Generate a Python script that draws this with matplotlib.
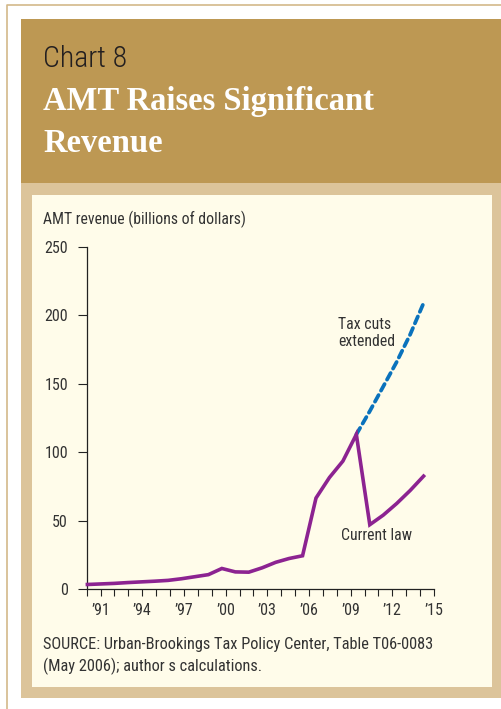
import matplotlib
matplotlib.use("Agg")
import matplotlib.pyplot as plt
from matplotlib.patches import Rectangle
from matplotlib.lines import Line2D
import numpy as np

# data (billions of dollars)
years = np.arange(1990, 2016)
current_law = [3.3, 3.7, 4.1, 4.7, 5.2, 5.7, 6.3, 7.5, 9.0, 10.5,
               15.0, 12.5, 12.3, 15.5, 19.5, 22.3, 24.3, 66.5, 81.5, 93.5,
               113.0, 47.0, 54.0, 62.5, 72.0, 82.5]
ext_years = np.arange(2010, 2016)
tax_cuts_extended = [113.0, 130.0, 148.0, 166.0, 186.0, 209.0]
tick_years = np.arange(1990, 2016)
label_years = [1991, 1994, 1997, 2000, 2003, 2006, 2009, 2012, 2015]

W, H = 502, 709
gold = "#bd9853"
tan = "#dcc49a"
cream = "#fffcea"
purple = "#8c2391"
blue = "#0a72bc"
txt = "#333333"
narrow = ["Roboto Condensed", "DejaVu Sans"]

fig = plt.figure(figsize=(W / 100, H / 100), dpi=100)
fig.patch.set_facecolor("white")


def box(x0, y0, x1, y1, color):
    # rectangle in pixel coords (y from top)
    fig.patches.append(Rectangle((x0 / W, 1 - y1 / H), (x1 - x0) / W, (y1 - y0) / H,
                                 transform=fig.transFigure, facecolor=color,
                                 edgecolor="none", zorder=-5))


def ftext(x, y, s, **kw):
    fig.text(x / W, 1 - y / H, s, **kw)


# outer thin border
fig.lines.append(Line2D([7 / W, 7 / W, 1], [0, 1 - 5 / H, 1 - 5 / H],
                        transform=fig.transFigure, color="#d3b98a", lw=1.2, zorder=-5))
box(21, 19, W, 183, gold)
box(21, 183, W, 698, tan)
box(32, 195, 492, 687, cream)

ftext(43, 67, "Chart 8", family=["Roboto Condensed", "DejaVu Sans"], fontweight="light",
      fontsize=21.5, color="#231f20", va="baseline")
ftext(43, 110, "AMT Raises Significant", family="Liberation Serif", fontweight="bold",
      fontsize=23.5, color="white", va="baseline")
ftext(43, 152, "Revenue", family="Liberation Serif", fontweight="bold",
      fontsize=23.5, color="white", va="baseline")

ftext(43, 219, "AMT revenue (billions of dollars)", family=narrow, fontsize=11.3,
      color=txt, va="center")
ftext(43, 644, "SOURCE: Urban-Brookings Tax Policy Center, Table T06-0083",
      family=narrow, fontsize=11.8, color=txt, va="center")
ftext(43, 666, "(May 2006); author s calculations.", family=narrow, fontsize=11.8,
      color=txt, va="center")

ax = fig.add_axes([86.7 / W, 1 - 589 / H, (434 - 86.7) / W, (589 - 247) / H], zorder=2)
ax.set_facecolor("none")

# points in the original sit on a slightly compressed grid
xscale = 0.968
xpos = 1990.05 + (years - 1990) * xscale
xpos_ext = 1990.05 + (ext_years - 1990) * xscale

ax.plot(xpos_ext, tax_cuts_extended, color=blue, lw=2.7, dashes=(2.0, 1.35),
        dash_capstyle="round", zorder=2, clip_on=False)
ax.plot(xpos, current_law, color=purple, lw=2.6, solid_joinstyle="miter", zorder=3,
        clip_on=False)

ax.set_xlim(1990, 2015)
ax.set_ylim(0, 250)
ax.set_yticks([0, 50, 100, 150, 200, 250])
ax.set_xticks(tick_years)
ax.set_xticklabels(["\u2019" + str(y)[2:] if y in label_years else "" for y in tick_years])
for s in ["top", "right"]:
    ax.spines[s].set_visible(False)
for s in ["left", "bottom"]:
    ax.spines[s].set_linewidth(0.9)
    ax.spines[s].set_color("#222222")
ax.tick_params(axis="y", length=6.5, width=0.8, pad=7, labelsize=11.5,
               labelcolor=txt, color="#222222")
ax.tick_params(axis="x", length=5, width=0.8, pad=5, labelsize=11.5,
               labelcolor=txt, color="#222222")
for lab in ax.get_xticklabels() + ax.get_yticklabels():
    lab.set_family(narrow)

ftext(338, 333, "Tax cuts\nextended", family=narrow, fontsize=11.3, color=txt,
      va="center", ha="left", linespacing=1.2)
ftext(341, 536, "Current law", family=narrow, fontsize=11.3, color=txt,
      va="center", ha="left")

fig.savefig("out.png", dpi=100)
